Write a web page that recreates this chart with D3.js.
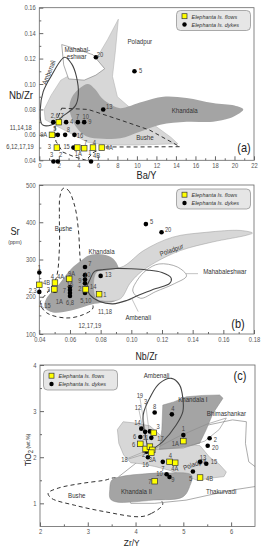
<!DOCTYPE html>
<html>
<head>
<meta charset="utf-8">
<script src="https://cdn.jsdelivr.net/npm/d3@7"></script>
<style>
  body { margin: 0; background: #fff; }
  text { font-family: Arial, "Liberation Sans", sans-serif; }
</style>
</head>
<body>
<div id="chart"></div>
<script>
// ---------- panel (a): Ba/Y vs Nb/Zr ----------
const aFlows = [[2.0,0.070],[1.3,0.060],[1.8,0.050],[3.9,0.050],[4.6,0.0495],[5.5,0.050],[6.4,0.050]];
const aDykes = [[1.43,0.070],[2.75,0.070],[3.95,0.070],[4.6,0.070],[1.9,0.060],[2.65,0.060],[3.6,0.060],
                [3.5,0.050],[1.45,0.039],[1.9,0.039],[5.3,0.039],[6.55,0.080],[5.8,0.121],[9.75,0.110]];
const aLabels = [[1.84,0.0751,"2,6,7"],[3.32,0.0703,"4"],[3.93,0.0748,"7"],[4.75,0.0748,"10"],[5.19,0.0703,"9"],
                 [-1.9,0.0656,"11,14,18"],[0.45,0.0605,"9A"],[1.6,0.0652,"5"],[2.97,0.0644,"8"],[4.17,0.0599,"16"],
                 [-1.98,0.0507,"6,12,17,19"],[1.02,0.0507,"3"],[2.8,0.0507,"15"],[4.75,0.054,"7"],[5.63,0.054,"4"],
                 [7.17,0.0499,"4A"],[3.99,0.0455,"1A"],[5.19,0.046,"1"],[5.87,0.0436,"4B"],[1.27,0.045,"3"],
                 [2.19,0.045,"2"],[7.17,0.0827,"13"],[6.21,0.1236,"20"],[10.38,0.1104,"5"]];
const aPoladpur = [[8.1,0.151],[7.8,0.126],[7.5,0.106],[8.0,0.090],[9.5,0.080],[11,0.072],[13.5,0.058],[14.2,0.053],
                   [10,0.052],[7,0.052],[5,0.054],[3.5,0.060],[2.5,0.064],[1.5,0.068],[0.6,0.072],[0.5,0.080],
                   [1.2,0.091],[2.2,0.103],[3.4,0.108],[4.5,0.111],[6.0,0.122],[7.0,0.135]];
const aMahabaleshwar = [[2.3,0.131],[4.0,0.127],[5.5,0.123],[6.7,0.112],[5.8,0.107],[4.6,0.103],[3.0,0.104],[2.5,0.115]];
const aKhandala = [[5.0,0.100],[5.7,0.096],[6.4,0.089],[7.5,0.083],[8.3,0.081],[10.6,0.086],[12.7,0.090],[15.1,0.089],
                   [17.8,0.085],[20.0,0.083],[20.9,0.080],[20.3,0.076],[19.5,0.073],[17.8,0.0703],[15.1,0.0703],
                   [12.4,0.068],[10.3,0.0625],[8.3,0.0573],[6.5,0.057],[4.8,0.059],[3.8,0.066],[3.1,0.080],[3.3,0.089],[4.2,0.097]];
const aBushe = [[2.3,0.081],[5,0.080],[8.3,0.0717],[11.3,0.0638],[14.4,0.0507],[10,0.0505],[6.8,0.0505],[5.5,0.046],
                [4.8,0.040],[3.5,0.043],[2.4,0.0465],[1.7,0.055],[1.6,0.068]];
const aAmbenali = [[2.6,0.121],[3.3,0.116],[3.8,0.106],[4.0,0.092],[3.7,0.083],[2.3,0.074],[1.3,0.068],[0.3,0.068],
                   [0.1,0.080],[0.4,0.094],[1.2,0.106]];
const aFieldNames = [[10.3,0.1332,"Poladpur",0],[3.89,0.1276,"Mahabal-",0],[3.83,0.1216,"eshwar",0],
                     [0.95,0.1092,"Ambenali",-68],[14.9,0.0795,"Khandala",0],[10.82,0.0577,"Bushe",0]];

// ---------- panel (b): Nb/Zr vs Sr ----------
const bFlows = [[0.040,232],[0.0502,238],[0.0498,220],[0.0595,248],[0.0702,220],[0.079,207]];
const bDykes = [[0.040,265],[0.040,213],[0.0502,216],[0.060,226],[0.060,218],[0.060,210],[0.060,202],
                [0.0698,280],[0.0698,258],[0.0698,246],[0.0698,236],[0.0698,210],[0.080,256],[0.1095,395],[0.1197,373]];
const bLabels = [[0.040,279,"1"],[0.0357,217,"2,3"],[0.0448,238,"4B"],[0.0485,254,"4"],[0.0539,254,"4A"],
                 [0.0459,220,"3"],[0.0563,218,"7"],[0.053,189,"1A"],[0.0437,178,"4,15"],[0.0611,263,"9A"],
                 [0.0600,233,"16"],[0.0600,184,"6,8"],[0.073,290,"7"],[0.0712,259,"10"],[0.0665,243,"9"],
                 [0.0665,223,"2"],[0.0752,229,"14"],[0.0704,191,"5,10"],[0.0828,207,"1"],[0.0849,260,"13"],
                 [0.0828,162,"11,18"],[0.073,122,"12,17,19"],[0.1132,403,"5"],[0.124,382,"20"]];
const bBushe = [[0.0556,491],[0.0589,486],[0.0632,442],[0.0655,379],[0.0673,277],[0.0717,206],[0.0750,170],
                [0.0686,152],[0.0578,143],[0.0448,157],[0.0406,184],[0.046,215],[0.051,250],[0.0531,330],
                [0.0531,415],[0.0535,470]];
const bKhandala = [[0.0717,310],[0.0782,315],[0.0869,306],[0.0912,284],[0.0934,221],[0.0901,190],[0.076,181],
                   [0.0608,163],[0.0489,158],[0.0435,172],[0.0446,195],[0.0522,230],[0.0608,275],[0.0673,297]];
const bPoladpur = [[0.077,265],[0.085,272],[0.095,282],[0.108,324],[0.127,360],[0.149,373],[0.171,378],[0.179,371],
                   [0.175,365],[0.153,347],[0.132,324],[0.116,293],[0.105,262],[0.099,235],[0.093,195],[0.085,188],[0.077,195]];
const bMahabaleshwar = [[0.118,288],[0.130,280],[0.136,256],[0.128,235],[0.116,214],[0.106,196],[0.101,215],[0.104,245],[0.110,272]];
const bAmbenali = [[0.073,246],[0.076,268],[0.082,273],[0.090,276],[0.100,275],[0.110,272],[0.120,265],[0.126,250],
                   [0.125,236],[0.116,222],[0.105,205],[0.097,190],[0.088,181],[0.079,188],[0.073,205],[0.071,225]];
const bFieldNames = [[0.0558,384,"Bushe",0],[0.0806,321,"Khandala",0],[0.1262,326,"Poladpur",-20],
                     [0.161,267,"Mahabaleshwar",0],[0.1045,146,"Ambenali",0]];
const bLeaders = [[[0.1355,262],[0.1435,262]],[[0.1002,196],[0.1045,160]]];

// ---------- panel (c): Zr/Y vs TiO2 ----------
const cFlows = [[4.1,2.29],[4.38,2.53],[4.21,2.18],[4.3,2.23],[4.35,2.16],[4.33,2.1],[4.71,1.9],[4.83,1.88],
                [5.0,2.35],[5.35,1.56],[4.4,1.48]];
const cDykes = [[4.4,2.97],[4.76,2.93],[4.12,2.62],[4.2,2.55],[4.3,2.56],[4.1,2.44],[4.33,2.42],[4.23,2.12],
                [4.26,2.0],[4.57,1.9],[4.65,1.63],[4.71,1.57],[5.2,1.69],[5.35,1.9],[5.48,1.86],[5.0,2.48],
                [5.55,2.41],[5.51,2.25]];
const cLabels = [[4.4,3.11,"8"],[4.78,3.06,"4"],[4.09,3.35,"19"],[4.21,3.22,"3"],[4.05,3.08,"12"],[4.04,2.76,"14"],
                 [4.47,2.66,"3"],[3.98,2.46,"6"],[4.21,2.43,"11"],[4.52,2.40,"17"],[3.96,2.29,"6"],[4.83,2.30,"1A"],
                 [5.0,2.62,"1"],[5.67,2.39,"2"],[5.67,2.21,"20"],[4.17,2.07,"2"],[4.35,1.96,"3A"],[4.21,1.85,"16"],
                 [3.77,1.96,"18"],[4.73,2.03,"4"],[4.57,1.76,"7"],[4.82,1.76,"4A"],[4.5,1.64,"10"],[4.78,1.53,"9"],
                 [4.3,1.48,"7"],[5.15,1.54,"5"],[5.55,1.54,"4B"],[5.41,2.0,"13"],[5.64,1.9,"15"]];
const cBushe = [[4.57,1.0],[4.33,0.78],[4.09,0.71],[3.35,0.82],[2.72,0.96],[2.24,1.11],[2.17,1.22],[2.38,1.33],
                [2.86,1.43],[3.35,1.5],[3.6,1.55]];
const cThakurvadi = [[3.65,1.58],[4.35,2.15],[4.9,2.45],[5.34,2.66],[6.03,2.81],[6.32,2.77],[6.3,2.3],[6.37,1.9],
                     [6.6,1.72],[6.6,1.38],[6.1,1.30],[5.67,1.21],[5.06,1.07],[4.4,1.0],[3.9,1.0]];
const cPoladpur = [[3.74,2.77],[4.0,2.74],[4.3,2.68],[4.55,2.45],[4.9,2.3],[5.35,2.25],[5.55,2.0],[5.75,1.85],
                   [5.9,1.68],[5.85,1.58],[5.6,1.55],[5.3,1.5],[5.0,1.6],[4.7,1.72],[4.4,1.8],[4.1,1.86],[3.9,1.88],
                   [3.75,2.05],[3.65,2.3],[3.62,2.6]];
const cKhandalaI = [[4.57,3.13],[4.8,3.2],[5.06,3.31],[5.4,3.34],[5.76,3.35],[5.83,3.28],[5.62,2.95],[5.48,2.6],
                    [5.34,2.3],[5.0,2.22],[4.5,2.17],[4.55,2.6]];
const cKhandalaII = [[3.5,1.5],[3.7,1.58],[4.2,1.64],[4.65,1.66],[5.17,1.61],[5.13,1.36],[4.99,1.14],[4.37,1.07],
                     [3.6,1.03],[3.47,1.1],[3.46,1.3]];
const cBhimashankar = [[4.38,2.17],[4.9,2.45],[5.5,2.72],[5.9,2.85],[5.75,2.6],[5.45,2.35],[5.0,2.2]];
const cAmbenali = [[4.3,2.12],[4.2,2.5],[4.16,2.92],[4.33,3.35],[4.5,3.6],[4.75,3.71],[4.92,3.57],[4.99,3.28],
                   [4.99,2.99],[4.85,2.70],[4.57,2.34],[4.37,2.18]];
const cFieldNames = [[4.44,3.78,"Ambenali",0],[5.2,3.26,"Khandala I",0],[5.9,2.95,"Bhimashankar",0],
                     [5.24,1.86,"Poladpur",-20],[5.79,1.25,"Thakurvadi",0],[4.02,1.25,"Khandala II",0],[2.77,1.18,"Bushe",0]];
const cLeaders = [[[4.09,3.30],[4.2,2.58]],[[4.21,3.17],[4.28,2.58]],[[4.07,3.03],[4.15,2.63]],
                  [[4.04,2.72],[4.12,2.63]],[[3.85,1.98],[4.25,2.15]],[[3.85,1.96],[4.23,2.08]]];

const legendNames = ["Elephanta Is. flows", "Elephanta Is. dykes"];

// ---------- drawing ----------
const W = 265, H = 550, SX = 0.88;
const LIGHT = "#d7d7d7", DARK = "#a4a4a4";

const svg = d3.select("#chart").append("svg").attr("width", W).attr("height", H);

function txt(g, x, y, s, size, o = {}) {
  return g.append("text")
    .attr("transform", `translate(${x},${y})${o.rot ? ` rotate(${o.rot})` : ""} scale(${SX},1)`)
    .attr("text-anchor", o.anchor || "middle")
    .attr("dominant-baseline", "central")
    .attr("font-size", size)
    .attr("font-style", o.italic ? "italic" : null)
    .attr("fill", o.fill || "#333")
    .text(s);
}

function legend(g, x0, y0) {
  g.append("rect").attr("x", x0).attr("y", y0).attr("width", 74).attr("height", 20)
   .attr("rx", 4).attr("fill", "#e6e6e6").attr("stroke", "#8a8a8a").attr("stroke-width", 0.7);
  g.append("rect").attr("x", x0 + 5.5).attr("y", y0 + 3.2).attr("width", 5).attr("height", 5)
   .attr("fill", "#ffff00").attr("stroke", "#333").attr("stroke-width", 0.7);
  g.append("circle").attr("cx", x0 + 8).attr("cy", y0 + 14).attr("r", 2.2).attr("fill", "#000");
  txt(g, x0 + 15, y0 + 5.9, legendNames[0], 6.2, { anchor: "start", italic: true });
  txt(g, x0 + 15, y0 + 14, legendNames[1], 6.2, { anchor: "start", italic: true });
}

function panel(p) {
  const x = d3.scaleLinear().domain(p.xDom).range(p.xRange);
  const y = d3.scaleLinear().domain(p.yDom).range(p.yRange);
  const g = svg.append("g");
  const [x0, x1] = p.xRange, [yb, yt] = p.yRange;

  g.append("clipPath").attr("id", "clip" + p.id).append("rect")
   .attr("x", x0).attr("y", yt).attr("width", x1 - x0).attr("height", yb - yt);
  const plot = g.append("g").attr("clip-path", `url(#clip${p.id})`);

  p.fields.forEach(f => {
    const curve = f.smooth ? d3.curveCatmullRomClosed.alpha(0.5) : d3.curveLinearClosed;
    plot.append("path")
      .attr("d", d3.line().x(d => x(d[0])).y(d => y(d[1])).curve(curve)(f.pts))
      .attr("fill", f.fill || "none")
      .attr("stroke", f.stroke || "none")
      .attr("stroke-width", f.sw || 0.7)
      .attr("stroke-dasharray", f.dash || null);
  });

  (p.leaders || []).forEach(l => {
    plot.append("line").attr("x1", x(l[0][0])).attr("y1", y(l[0][1]))
      .attr("x2", x(l[1][0])).attr("y2", y(l[1][1]))
      .attr("stroke", "#888").attr("stroke-width", 0.5);
  });

  p.names.forEach(n => txt(g, x(n[0]), y(n[1]), n[2], 7, { rot: n[3], fill: "#333" }));

  // frame + inward ticks
  g.append("rect").attr("x", x0).attr("y", yt).attr("width", x1 - x0).attr("height", yb - yt)
   .attr("fill", "none").attr("stroke", "#666").attr("stroke-width", 0.8);

  const clean = a => a.call(s => s.select(".domain").remove())
    .call(s => s.selectAll("line").attr("stroke", "#666"));
  g.append("g").attr("transform", `translate(0,${yb})`)
   .call(d3.axisBottom(x).tickValues(p.xMinor).tickSize(-2).tickFormat("")).call(clean);
  g.append("g").attr("transform", `translate(${x0},0)`)
   .call(d3.axisLeft(y).tickValues(p.yMinor).tickSize(-2).tickFormat("")).call(clean);
  const xa = g.append("g").attr("transform", `translate(0,${yb})`)
   .call(d3.axisBottom(x).tickValues(p.xTicks).tickSize(-4).tickPadding(3).tickFormat(p.xFmt)).call(clean);
  const ya = g.append("g").attr("transform", `translate(${x0},0)`)
   .call(d3.axisLeft(y).tickValues(p.yTicks).tickSize(-4).tickPadding(4).tickFormat(p.yFmt)).call(clean);
  [xa, ya].forEach(a => a.selectAll("text").attr("font-size", 6.6).attr("fill", "#555")
    .attr("font-family", "Arial, 'Liberation Sans', sans-serif").attr("transform", `scale(${SX},1)`));

  // points
  g.selectAll(null).data(p.dykes).join("circle")
    .attr("cx", d => x(d[0])).attr("cy", d => y(d[1])).attr("r", 2.3).attr("fill", "#000");
  g.selectAll(null).data(p.flows).join("rect")
    .attr("x", d => x(d[0]) - 2.8).attr("y", d => y(d[1]) - 2.8).attr("width", 5.6).attr("height", 5.6)
    .attr("fill", "#ffff00").attr("stroke", "#333").attr("stroke-width", 0.7);

  p.labels.forEach(l => txt(g, x(l[0]), y(l[1]), l[2], 6.6, { fill: "#444" }));

  legend(g, p.legend[0], p.legend[1]);
  txt(g, p.tag[0], p.tag[1], p.tag[2], 12.5, { fill: "#222" });
  return { g, x, y };
}

const f2 = d3.format(".2f");

// (a)
const A = panel({
  id: "a", xDom: [0, 22], yDom: [0.04, 0.16], xRange: [39.3, 254], yRange: [160.3, 7.7],
  xTicks: d3.range(0, 23, 2), xMinor: d3.range(1, 22, 2),
  yTicks: [0.04, 0.06, 0.08, 0.10, 0.12, 0.14, 0.16], yMinor: [0.05, 0.07, 0.09, 0.11, 0.13, 0.15],
  xFmt: d3.format("d"), yFmt: f2,
  fields: [
    { pts: aPoladpur, fill: LIGHT, stroke: "#aaa", sw: 0.5 },
    { pts: aKhandala, fill: DARK, smooth: true },
    { pts: aMahabaleshwar, fill: "#fff", stroke: "#888", sw: 0.7 },
    { pts: aBushe, stroke: "#333", sw: 1, dash: "4,3" },
    { pts: aAmbenali, stroke: "#444", sw: 1.1, smooth: true }
  ],
  names: aFieldNames, flows: aFlows, dykes: aDykes, labels: aLabels,
  legend: [176.5, 10.5], tag: [244, 147, "(a)"]
});
txt(A.g, 21, 95, "Nb/Zr", 11, { fill: "#222" });
txt(A.g, 146.5, 175, "Ba/Y", 10.5, { fill: "#222" });

// (b)
const B = panel({
  id: "b", xDom: [0.04, 0.18], yDom: [100, 500], xRange: [39.3, 254], yRange: [334, 185],
  xTicks: d3.range(0.04, 0.181, 0.02), xMinor: d3.range(0.05, 0.18, 0.02),
  yTicks: [100, 200, 300, 400, 500], yMinor: [150, 250, 350, 450],
  xFmt: f2, yFmt: d3.format("d"),
  fields: [
    { pts: bBushe, stroke: "#333", sw: 1, dash: "4,3", smooth: true },
    { pts: bKhandala, fill: DARK, smooth: true },
    { pts: bPoladpur, fill: LIGHT, stroke: "#999", sw: 0.5, smooth: true },
    { pts: bMahabaleshwar, fill: "#fff", stroke: "#888", sw: 0.7, smooth: true },
    { pts: bAmbenali, stroke: "#444", sw: 1.1, smooth: true }
  ],
  leaders: bLeaders,
  names: bFieldNames, flows: bFlows, dykes: bDykes, labels: bLabels,
  legend: [176.5, 189], tag: [238, 323, "(b)"]
});
txt(B.g, 15, 231, "Sr", 10.5, { fill: "#222" });
txt(B.g, 15, 242, "(ppm)", 5.8, { fill: "#333" });
txt(B.g, 146.5, 356, "Nb/Zr", 10, { fill: "#222" });

// (c)
const C = panel({
  id: "c", xDom: [2, 6.5], yDom: [0.5, 4], xRange: [40, 255], yRange: [526.4, 365],
  xTicks: [2, 3, 4, 5, 6], xMinor: [2.5, 3.5, 4.5, 5.5],
  yTicks: [1, 2, 3, 4], yMinor: [1.5, 2.5, 3.5],
  xFmt: d3.format("d"), yFmt: d3.format("d"),
  fields: [
    { pts: cBushe, stroke: "#333", sw: 1, dash: "4,3", smooth: true },
    { pts: cThakurvadi, stroke: "#888", sw: 0.7 },
    { pts: cPoladpur, fill: LIGHT, stroke: "#999", sw: 0.5 },
    { pts: cKhandalaI, fill: DARK, stroke: "#888", sw: 0.5 },
    { pts: cKhandalaII, fill: DARK, stroke: "#888", sw: 0.5, smooth: true },
    { pts: cBhimashankar, stroke: "#888", sw: 0.6 },
    { pts: cAmbenali, stroke: "#444", sw: 1.1, smooth: true }
  ],
  leaders: cLeaders,
  names: cFieldNames, flows: cFlows, dykes: cDykes, labels: cLabels,
  legend: [43.5, 370], tag: [240, 375, "(c)"]
});
const tio = C.g.append("text")
  .attr("transform", `translate(28,450) rotate(-90) scale(${SX},1)`)
  .attr("text-anchor", "middle").attr("dominant-baseline", "central").attr("fill", "#222");
tio.append("tspan").attr("font-size", 9.5).text("TiO");
tio.append("tspan").attr("font-size", 6.5).attr("dy", 2).text("2");
tio.append("tspan").attr("font-size", 6).attr("dy", -2).text(" (wt.%)");
txt(C.g, 131.7, 543, "Zr/Y", 9.5, { fill: "#222" });
</script>
</body>
</html>
